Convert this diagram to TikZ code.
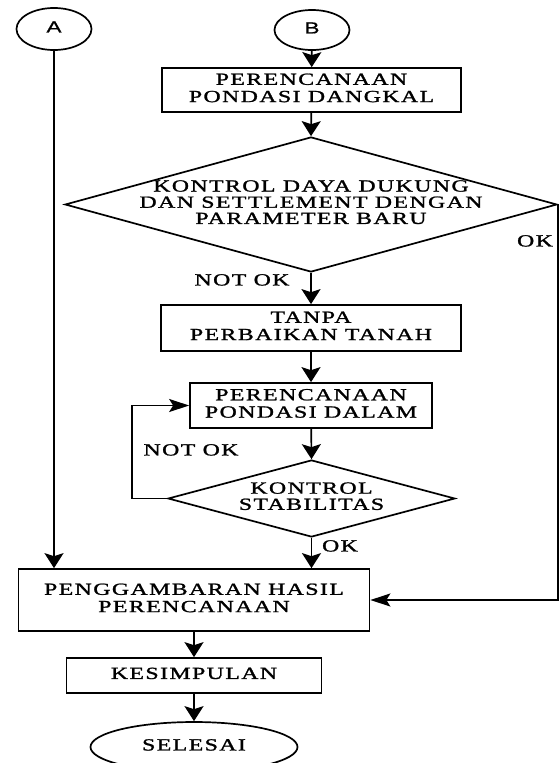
\documentclass[tikz,border=0pt]{standalone}
\usepackage{fontspec}
\setmainfont{Liberation Serif}[LetterSpace=6,FakeBold=1.2]
\setsansfont{Liberation Sans}[FakeBold=0.8]
\usetikzlibrary{shapes.geometric, arrows.meta, positioning}

% teks dilebarkan mendatar seperti pada gambar asli
\newcommand{\lebar}[1]{\scalebox{1.4}[1]{\renewcommand{\arraystretch}{1.08}%
    \begin{tabular}{@{}c@{}}#1\end{tabular}}}

\tikzset{
    proses/.style={draw, rectangle, inner sep=0pt,
        font=\fontsize{17}{16}\selectfont},
    keputusan/.style={draw, diamond, inner sep=0pt},
    isi/.style={inner sep=0pt, font=\fontsize{17}{15}\selectfont},
    konektor/.style={draw, ellipse, inner sep=0pt, font=\sffamily\fontsize{16}{16}\selectfont},
    terminal/.style={draw, ellipse, inner sep=0pt, font=\fontsize{17}{16}\selectfont},
    ket/.style={inner sep=0pt, font=\fontsize{17}{16}\selectfont},
    panah/.style={-{Stealth[length=15pt,width=19pt,inset=3pt]}},
    panahh/.style={-{Stealth[length=20pt,width=13pt,inset=4pt]}}
}

\begin{document}
\begin{tikzpicture}[x=1pt, y=-1pt, line width=1.7pt]

    % =================================================================
    % 1. BIDANG GAMBAR
    % =================================================================
    \clip (0,0) rectangle (559,763);
    \fill[white] (0,0) rectangle (559,763);

    % =================================================================
    % 2. TITIK PUSAT TIAP BLOK
    % =================================================================
    \coordinate (pA) at (54,29);
    \coordinate (pB) at (312,30);
    \coordinate (pRencana1) at (311.5,90);
    \coordinate (pKontrol1) at (311,204.5);
    \coordinate (pTanpa) at (311,328);
    \coordinate (pRencana2) at (311,405.5);
    \coordinate (pKontrol2) at (311.5,498.5);
    \coordinate (pGambar) at (194,600);
    \coordinate (pSimpul) at (194,675.5);
    \coordinate (pSelesai) at (194,747);

    % =================================================================
    % 3. BLOK-BLOK DIAGRAM ALIR
    % =================================================================
    \node[konektor, minimum width=75pt, minimum height=42pt] (A) at (pA) {\lebar{A}};
    \node[konektor, minimum width=75pt, minimum height=40pt] (B) at (pB) {\lebar{B}};

    \node[proses, minimum width=299pt, minimum height=44pt] (rencana1) at (pRencana1)
        {\lebar{PERENCANAAN\\PONDASI DANGKAL}};

    \node[keputusan, minimum width=492pt, minimum height=135pt] (kontrol1) at (pKontrol1) {};
    \node[isi] (kontrol1isi) at (kontrol1.center)
        {\lebar{KONTROL DAYA DUKUNG\\DAN SETTLEMENT DENGAN\\PARAMETER BARU}};

    \node[proses, minimum width=300pt, minimum height=46pt] (tanpa) at (pTanpa)
        {\lebar{TANPA\\PERBAIKAN TANAH}};

    \node[proses, minimum width=242pt, minimum height=45pt] (rencana2) at (pRencana2)
        {\lebar{PERENCANAAN\\PONDASI DALAM}};

    \node[keputusan, minimum width=287pt, minimum height=77pt] (kontrol2) at (pKontrol2) {};
    \node[isi] (kontrol2isi) at (kontrol2.center) {\lebar{KONTROL\\STABILITAS}};

    \node[proses, minimum width=351pt, minimum height=62pt] (gambar) at (pGambar)
        {\lebar{PENGGAMBARAN HASIL\\PERENCANAAN}};

    \node[proses, minimum width=255pt, minimum height=35pt] (simpul) at (pSimpul)
        {\lebar{KESIMPULAN}};

    \node[terminal, minimum width=207pt, minimum height=50pt] (selesai) at (pSelesai)
        {\lebar{SELESAI}};

    % =================================================================
    % 4. GARIS PENGHUBUNG
    % =================================================================
    \draw[panah] (A.south) -- (A.south |- gambar.north);
    \draw[panah] (B) -- (rencana1);
    \draw[panah] (rencana1) -- (kontrol1.north);
    \draw[panah] (kontrol1.south) -- (tanpa);
    \draw[panah] (tanpa) -- (rencana2);
    \draw[panah] (rencana2) -- (kontrol2.north);
    \draw[panahh] (kontrol2.west) -- ++(-35,0) |- (rencana2.west);
    \draw[panah] (kontrol2.south) -- (kontrol2.south |- gambar.north);
    \draw[panahh] (kontrol1.east) |- (gambar.east);
    \draw[panah] (gambar) -- (simpul);
    \draw[panah] (simpul) -- (selesai);

    % =================================================================
    % 5. KETERANGAN CABANG
    % =================================================================
    \node[ket] (tidak1) at (242,282) {\lebar{NOT OK}};
    \node[ket] (ya1) at (535,243) {\lebar{OK}};
    \node[ket] (tidak2) at (191,452) {\lebar{NOT OK}};
    \node[ket] (ya2) at (340,548) {\lebar{OK}};

\end{tikzpicture}
\end{document}
